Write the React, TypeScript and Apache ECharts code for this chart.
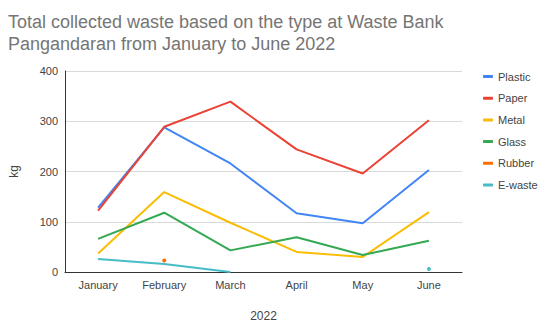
import React, { useEffect, useRef } from "react";
import * as echarts from "echarts";

const categories = ["January", "February", "March", "April", "May", "June"];
const plastic = [128, 288, 216, 117, 97, 203];
const paper = [122, 289, 339, 244, 196, 302];
const metal = [37, 159, 98, 40, 30, 119];
const glass = [66, 118, 43, 69, 34, 62];
const rubber: (number | null)[] = [null, 23, null, null, null, null];
const ewaste: (number | null)[] = [26, 16, 0, null, null, 6];
const yTicks = [0, 100, 200, 300, 400];

const seriesDefs = [
  { name: "Plastic", data: plastic as (number | null)[], color: "#4285F4" },
  { name: "Paper", data: paper as (number | null)[], color: "#EA4335" },
  { name: "Metal", data: metal as (number | null)[], color: "#FBBC04" },
  { name: "Glass", data: glass as (number | null)[], color: "#34A853" },
  { name: "Rubber", data: rubber, color: "#FF6D01" },
  { name: "E-waste", data: ewaste, color: "#46BDC6" },
];

function buildData(arr: (number | null)[]) {
  return arr.map((v, i) => {
    if (v === null) return null;
    const prev = i > 0 ? arr[i - 1] : null;
    const next = i < arr.length - 1 ? arr[i + 1] : null;
    if (prev === null && next === null) {
      return { value: v, symbol: "circle", symbolSize: 4 };
    }
    return v;
  });
}

export default function App() {
  const ref = useRef<HTMLDivElement>(null);
  useEffect(() => {
    if (!ref.current) return;
    const chart = echarts.init(ref.current, undefined, { renderer: "svg" });
    const font = "Arial, 'Liberation Sans', sans-serif";
    chart.setOption({
      animation: false,
      textStyle: { fontFamily: font },
      title: {
        text: "Total collected waste based on the type at Waste Bank\nPangandaran from January to June 2022",
        left: 3,
        top: 6,
        textStyle: {
          fontSize: 18,
          fontWeight: "normal",
          color: "#757575",
          lineHeight: 22,
          fontFamily: font,
        },
      },
      legend: {
        orient: "vertical",
        left: 478,
        top: 66,
        itemWidth: 10,
        itemHeight: 3,
        itemGap: 10.7,
        icon: "roundRect",
        textStyle: { fontSize: 11, color: "#444", fontFamily: font },
        data: seriesDefs.map((s) => s.name),
      },
      grid: { left: 65, right: 88, top: 71, bottom: 58 },
      xAxis: {
        type: "category",
        data: categories,
        boundaryGap: true,
        name: "2022",
        nameLocation: "middle",
        nameGap: 38,
        nameTextStyle: { fontSize: 12, color: "#444" },
        axisLine: { lineStyle: { color: "#333", width: 1 } },
        axisTick: { show: false },
        axisLabel: { fontSize: 11, color: "#444", margin: 7 },
      },
      yAxis: {
        type: "value",
        min: yTicks[0],
        max: yTicks[yTicks.length - 1],
        interval: 100,
        name: "kg",
        nameLocation: "middle",
        nameGap: 45,
        nameTextStyle: { fontSize: 12, color: "#444" },
        axisLine: { show: true, lineStyle: { color: "#333", width: 1 } },
        axisTick: { show: false },
        axisLabel: { fontSize: 11, color: "#444", margin: 7 },
        splitLine: { lineStyle: { color: "#d9d9d9", width: 1 } },
      },
      series: seriesDefs.map((s) => ({
        name: s.name,
        type: "line",
        data: buildData(s.data),
        symbol: "none",
        showSymbol: true,
        connectNulls: false,
        color: s.color,
        lineStyle: { width: 2, color: s.color },
        itemStyle: { color: s.color },
      })),
    });
    return () => chart.dispose();
  }, []);
  return <div ref={ref} style={{ width: 550, height: 330, position: "absolute", left: 0, top: 0 }} />;
}
